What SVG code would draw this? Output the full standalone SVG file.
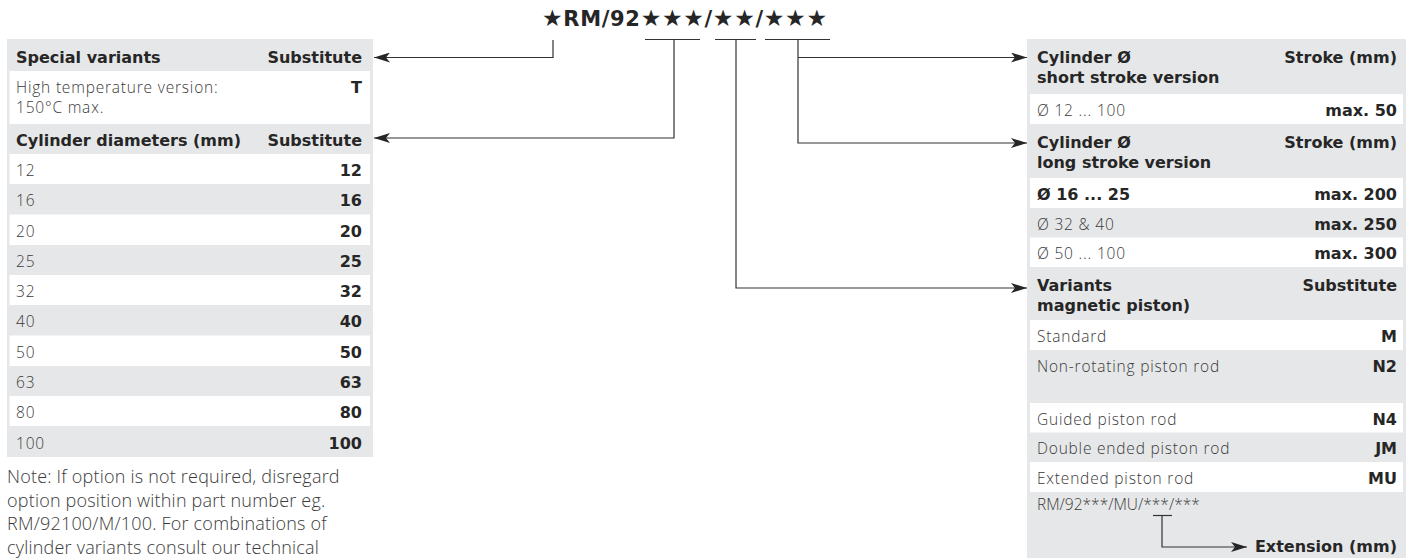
<svg xmlns="http://www.w3.org/2000/svg" width="1413" height="558" viewBox="0 0 1413 558">
<style>
text{fill:#262626}
.b{font-family:"DejaVu Sans","Open Sans",sans-serif;font-weight:700;font-size:16px}
.r{font-family:"Open Sans","Liberation Sans",sans-serif;font-weight:300;font-size:15.5px;letter-spacing:0.8px;fill:#3a3a3a}
.m{font-family:"Open Sans","Liberation Sans",sans-serif;font-weight:300;font-size:15.5px;fill:#3a3a3a}
.n{font-family:"Open Sans","Liberation Sans",sans-serif;font-weight:300;font-size:18px;letter-spacing:0.2px;fill:#3a3a3a}
.e{text-anchor:end}
.g{fill:#e6e7e8}
.w{fill:#ffffff}
.c{fill:none;stroke:#333;stroke-width:1.2}
.t{font-family:"DejaVu Sans","Open Sans",sans-serif;font-weight:700;font-size:21px}
.s{font-size:23px}
</style>
<defs>
<marker id="ah" viewBox="0 0 16 10" refX="16" refY="5" markerWidth="16" markerHeight="10" markerUnits="userSpaceOnUse" orient="auto">
<path d="M0,0 L16,5 L0,10 L4,5 Z" fill="#262626"/>
</marker>
</defs>
<rect width="1413" height="558" fill="#ffffff"/>
<text class="t" x="542" y="26" textLength="285" lengthAdjust="spacing"><tspan class="s">★</tspan>RM/92<tspan class="s">★★★</tspan>/<tspan class="s">★★</tspan>/<tspan class="s">★★★</tspan></text>

<g id="left-table">
<rect class="g" x="7" y="39" width="366" height="418"/>
<rect class="w" x="9.5" y="71" width="360.5" height="53"/>
<text class="b" x="16" y="63">Special variants</text>
<text class="b e" x="362" y="63">Substitute</text>
<text class="r" x="16" y="93">High temperature version:</text>
<text class="r" x="16" y="113">150°C max.</text>
<text class="b e" x="362" y="93">T</text>
<text class="b" x="16" y="146">Cylinder diameters (mm)</text>
<text class="b e" x="362" y="146">Substitute</text>
<rect class="w" x="9.5" y="154" width="360.5" height="30"/>
<rect class="w" x="9.5" y="214.5" width="360.5" height="30.5"/>
<rect class="w" x="9.5" y="275" width="360.5" height="30"/>
<rect class="w" x="9.5" y="335.5" width="360.5" height="30.5"/>
<rect class="w" x="9.5" y="396" width="360.5" height="30"/>
<text class="r" x="16" y="176">12</text><text class="b e" x="362" y="176">12</text>
<text class="r" x="16" y="206">16</text><text class="b e" x="362" y="206">16</text>
<text class="r" x="16" y="237">20</text><text class="b e" x="362" y="237">20</text>
<text class="r" x="16" y="267">25</text><text class="b e" x="362" y="267">25</text>
<text class="r" x="16" y="297">32</text><text class="b e" x="362" y="297">32</text>
<text class="r" x="16" y="327">40</text><text class="b e" x="362" y="327">40</text>
<text class="r" x="16" y="358">50</text><text class="b e" x="362" y="358">50</text>
<text class="r" x="16" y="388">63</text><text class="b e" x="362" y="388">63</text>
<text class="r" x="16" y="418">80</text><text class="b e" x="362" y="418">80</text>
<text class="r" x="16" y="449">100</text><text class="b e" x="362" y="449">100</text>
</g>

<g id="note">
<text class="n" x="7" y="483">Note: If option is not required, disregard</text>
<text class="n" x="7" y="506.5">option position within part number eg.</text>
<text class="n" x="7" y="530">RM/92100/M/100. For combinations of</text>
<text class="n" x="7" y="553.5">cylinder variants consult our technical</text>
</g>

<g id="right-table">
<rect class="g" x="1027" y="39" width="379" height="519"/>
<rect class="w" x="1030" y="94" width="373" height="30"/>
<rect class="w" x="1030" y="178" width="373" height="30"/>
<rect class="w" x="1030" y="237.5" width="373" height="29.5"/>
<rect class="w" x="1030" y="320" width="373" height="30"/>
<rect class="w" x="1030" y="403" width="373" height="29.5"/>
<rect class="w" x="1030" y="462" width="373" height="30"/>
<text class="b" x="1037" y="63">Cylinder Ø</text>
<text class="b" x="1037" y="83">short stroke version</text>
<text class="b e" x="1397" y="63">Stroke (mm)</text>
<text class="r" x="1037" y="116">Ø 12 ... 100</text><text class="b e" x="1397" y="116">max. 50</text>
<text class="b" x="1037" y="148">Cylinder Ø</text>
<text class="b" x="1037" y="168">long stroke version</text>
<text class="b e" x="1397" y="148">Stroke (mm)</text>
<text class="b" x="1037" y="200">Ø 16 ... 25</text><text class="b e" x="1397" y="200">max. 200</text>
<text class="r" x="1037" y="230">Ø 32 &amp; 40</text><text class="b e" x="1397" y="230">max. 250</text>
<text class="r" x="1037" y="259">Ø 50 ... 100</text><text class="b e" x="1397" y="259">max. 300</text>
<text class="b" x="1037" y="291">Variants</text>
<text class="b" x="1037" y="311">magnetic piston)</text>
<text class="b e" x="1397" y="291">Substitute</text>
<text class="r" x="1037" y="342">Standard</text><text class="b e" x="1397" y="342">M</text>
<text class="r" x="1037" y="372">Non-rotating piston rod</text><text class="b e" x="1397" y="372">N2</text>
<text class="r" x="1037" y="425">Guided piston rod</text><text class="b e" x="1397" y="425">N4</text>
<text class="r" x="1037" y="454">Double ended piston rod</text><text class="b e" x="1397" y="454">JM</text>
<text class="r" x="1037" y="484">Extended piston rod</text><text class="b e" x="1397" y="484">MU</text>
<text class="m" x="1037" y="510">RM/92***/MU/***/***</text>
<path class="c" d="M1153,515.5 H1172"/>
<path class="c" d="M1162,515.5 V547 H1247" marker-end="url(#ah)"/>
<text class="b e" x="1397" y="552">Extension (mm)</text>
</g>

<g id="connectors">
<path class="c" d="M553,40 V57.5 H374" marker-end="url(#ah)"/>
<path class="c" d="M645,39.5 H700"/>
<path class="c" d="M674,39.5 V138 H374" marker-end="url(#ah)"/>
<path class="c" d="M715,39.5 H756"/>
<path class="c" d="M736,39.5 V288 H1027" marker-end="url(#ah)"/>
<path class="c" d="M765,39.5 H830"/>
<path class="c" d="M798,39.5 V143 H1027" marker-end="url(#ah)"/>
<path class="c" d="M798,57.5 H1027" marker-end="url(#ah)"/>
</g>
</svg>
